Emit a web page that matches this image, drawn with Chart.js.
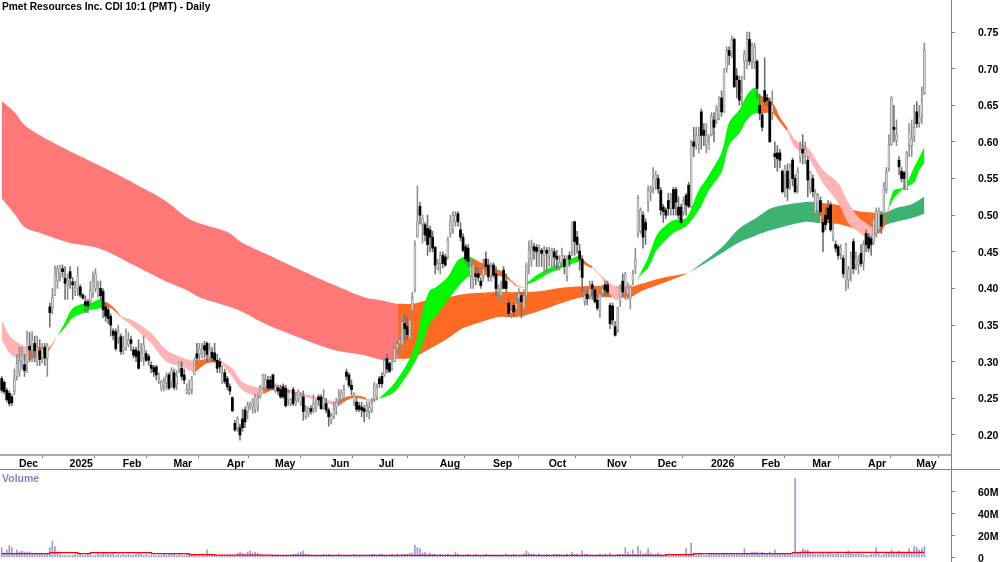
<!DOCTYPE html>
<html lang="en">
<head>
  <meta charset="UTF-8">
  <title>Pmet Resources Inc. CDI 10:1 (PMT) - Daily</title>
  <script src="https://cdn.jsdelivr.net/npm/chart.js"></script>
  <style>
    body { margin: 0; background: #fff; overflow: hidden; font-family: 'Liberation Sans', Arial, sans-serif; }
    canvas { position: absolute; left: 0; }
    #priceChart { top: 0; }
    #volumeChart { top: 470px; }
    .caption { position: absolute; font-weight: bold; white-space: nowrap; }
    #title { left: 2px; top: 1px; font-size: 10.2px; color: #000; }
    #volLabel { left: 2px; top: 472px; font-size: 10.5px; color: #8484c4; }
  </style>
</head>
<body>
  <canvas id="priceChart" width="1000" height="470"></canvas>
  <canvas id="volumeChart" width="1000" height="92"></canvas>
  <div class="caption" id="title">Pmet Resources Inc. CDI 10:1 (PMT) - Daily</div>
  <div class="caption" id="volLabel">Volume</div>

  <script>
    const monthLabels = ['Dec','2025','Feb','Mar','Apr','May','Jun','Jul','Aug','Sep','Oct','Nov','Dec','2026','Feb','Mar','Apr','May'];
    const monthTicks = [6,26,47,67,88,107,129,148,172,193,215,238,258,279,299,319,341,360];
    const priceTicks = [0.20,0.25,0.30,0.35,0.40,0.45,0.50,0.55,0.60,0.65,0.70,0.75];
    const volumeTicks = [0,20,40,60];

    // daily candles, one value per bar
    const opens = [
      .277,.272,.261,.257,.252,.259,.28,.286,.30,.296,
      .30,.321,.315,.325,.30,.315,.305,.32,.305,.375,
      .372,.39,.41,.42,.427,.414,.405,.423,.409,.396,
      .40,.402,.391,.382,.382,.382,.393,.40,.391,.40,
      .396,.375,.371,.362,.342,.341,.332,.334,.316,.318,
      .323,.33,.316,.316,.314,.305,.305,.311,.307,.295,
      .292,.293,.273,.264,.268,.27,.282,.272,.285,.27,
      .289,.291,.282,.258,.257,.262,.283,.311,.31,.313,
      .322,.325,.305,.313,.312,.302,.30,.272,.285,.277,
      .266,.251,.216,.21,.21,.222,.234,.232,.238,.238,
      .235,.24,.252,.265,.265,.275,.275,.282,.26,.264,
      .262,.266,.264,.248,.242,.262,.242,.25,.243,.252,
      .225,.23,.236,.236,.238,.252,.252,.24,.243,.234,
      .22,.225,.238,.248,.248,.25,.286,.282,.268,.245,
      .245,.24,.238,.236,.233,.232,.235,.25,.252,.277,
      .28,.282,.304,.298,.29,.30,.318,.325,.323,.352,
      .348,.332,.37,.398,.471,.512,.487,.487,.482,.48,
      .47,.456,.427,.434,.445,.443,.443,.475,.48,.491,
      .502,.48,.47,.457,.455,.416,.412,.42,.42,.41,
      .416,.44,.432,.416,.432,.42,.395,.39,.425,.41,
      .38,.366,.377,.372,.386,.39,.373,.39,.44,.44,
      .457,.456,.448,.452,.445,.452,.443,.44,.45,.444,
      .43,.436,.44,.416,.445,.45,.491,.47,.451,.44,
      .382,.392,.39,.405,.398,.384,.37,.393,.405,.405,
      .377,.376,.348,.343,.382,.41,.402,.392,.387,.41,
      .43,.475,.478,.50,.49,.518,.532,.537,.548,.55,
      .534,.511,.507,.52,.509,.535,.535,.511,.511,.505,
      .527,.541,.512,.60,.596,.597,.641,.616,.596,.59,
      .61,.63,.63,.632,.66,.641,.70,.725,.72,.74,
      .69,.684,.662,.71,.712,.74,.71,.708,.71,.65,
      .637,.67,.66,.655,.64,.584,.585,.585,.56,.555,
      .56,.548,.575,.55,.54,.578,.59,.58,.575,.537,
      .55,.503,.505,.52,.49,.50,.51,.514,.47,.46,
      .457,.448,.441,.41,.412,.427,.464,.432,.432,.448,
      .436,.475,.47,.468,.462,.475,.48,.50,.503,.535,
      .564,.596,.62,.602,.575,.56,.558,.535,.595,.595,
      .607,.641,.627,.637,.666
    ];
    const closes = [
      .261,.259,.248,.243,.244,.277,.298,.302,.31,.288,
      .33,.316,.33,.315,.32,.303,.318,.305,.322,.367,
      .388,.42,.427,.43,.423,.407,.41,.414,.405,.402,
      .418,.391,.387,.377,.376,.398,.409,.42,.40,.39,
      .371,.362,.359,.35,.336,.318,.343,.314,.32,.341,
      .33,.325,.309,.307,.291,.311,.323,.302,.302,.291,
      .286,.282,.277,.273,.273,.28,.264,.288,.265,.28,
      .30,.28,.275,.262,.262,.275,.302,.305,.318,.318,
      .316,.31,.317,.305,.302,.291,.293,.285,.273,.266,
      .26,.233,.207,.222,.20,.21,.218,.241,.242,.244,
      .252,.25,.265,.282,.276,.264,.264,.264,.266,.26,
      .252,.252,.24,.258,.248,.243,.247,.259,.252,.232,
      .234,.236,.232,.243,.243,.248,.236,.25,.234,.225,
      .227,.236,.245,.252,.258,.262,.28,.268,.262,.255,
      .235,.235,.234,.232,.24,.238,.243,.268,.265,.27,
      .27,.302,.29,.287,.30,.318,.325,.33,.355,.345,
      .337,.357,.388,.46,.491,.50,.496,.473,.46,.47,
      .455,.432,.434,.445,.434,.432,.466,.491,.50,.50,
      .491,.47,.452,.44,.437,.43,.432,.416,.415,.404,
      .427,.43,.416,.43,.418,.40,.40,.40,.40,.40,
      .366,.37,.368,.38,.393,.382,.39,.432,.452,.457,
      .452,.45,.452,.448,.452,.448,.45,.452,.443,.44,
      .436,.445,.43,.44,.44,.49,.464,.46,.44,.415,
      .39,.386,.40,.40,.382,.373,.393,.40,.398,.395,
      .352,.357,.336,.373,.40,.395,.42,.40,.402,.42,
      .44,.523,.507,.47,.48,.534,.536,.552,.555,.536,
      .507,.505,.50,.509,.518,.509,.518,.50,.49,.52,
      .514,.512,.596,.594,.609,.609,.609,.609,.609,.60,
      .635,.62,.645,.66,.641,.698,.725,.718,.739,.675,
      .685,.657,.667,.72,.74,.71,.732,.73,.673,.639,
      .62,.655,.657,.60,.65,.58,.577,.575,.532,.564,
      .537,.566,.55,.532,.56,.59,.585,.59,.548,.56,
      .532,.53,.527,.505,.477,.487,.495,.48,.482,.455,
      .445,.455,.42,.46,.425,.444,.427,.44,.438,.434,
      .46,.46,.455,.46,.495,.505,.505,.485,.54,.56,
      .596,.66,.617,.61,.566,.55,.55,.585,.615,.605,
      .62,.625,.634,.655,.725
    ];
    const highs = [
      .28,.274,.264,.26,.255,.29,.31,.32,.32,.31,
      .342,.34,.341,.335,.335,.33,.325,.325,.325,.38,
      .40,.431,.431,.432,.432,.43,.42,.43,.415,.41,
      .43,.405,.393,.39,.385,.41,.423,.427,.41,.41,
      .40,.38,.375,.365,.345,.345,.35,.338,.335,.345,
      .34,.335,.32,.32,.33,.325,.335,.315,.31,.30,
      .295,.295,.285,.275,.278,.285,.285,.292,.29,.288,
      .30,.30,.29,.27,.275,.28,.305,.325,.325,.325,
      .328,.327,.325,.32,.325,.31,.305,.295,.29,.28,
      .27,.252,.22,.225,.215,.235,.238,.245,.245,.25,
      .255,.255,.268,.283,.283,.28,.28,.283,.27,.268,
      .268,.27,.268,.262,.25,.265,.258,.262,.258,.26,
      .24,.238,.24,.255,.248,.255,.255,.262,.25,.237,
      .23,.245,.25,.262,.262,.268,.29,.285,.275,.258,
      .25,.245,.245,.24,.245,.245,.25,.272,.27,.28,
      .285,.305,.31,.30,.305,.322,.33,.345,.36,.365,
      .36,.36,.395,.465,.54,.518,.50,.49,.50,.485,
      .478,.458,.44,.45,.45,.447,.47,.50,.505,.505,
      .505,.49,.475,.46,.46,.44,.44,.43,.428,.415,
      .44,.45,.44,.435,.435,.43,.405,.41,.43,.42,
      .385,.378,.38,.392,.40,.395,.398,.435,.465,.466,
      .462,.46,.46,.455,.458,.456,.456,.455,.455,.452,
      .445,.455,.445,.445,.45,.491,.492,.478,.46,.445,
      .398,.398,.41,.41,.40,.39,.395,.405,.41,.41,
      .38,.38,.355,.375,.405,.42,.422,.408,.405,.425,
      .455,.527,.51,.505,.495,.54,.54,.565,.56,.555,
      .538,.515,.51,.53,.53,.538,.538,.525,.515,.525,
      .53,.545,.602,.62,.62,.62,.645,.625,.625,.61,
      .64,.64,.65,.662,.67,.70,.73,.73,.745,.742,
      .70,.69,.69,.725,.75,.75,.735,.735,.712,.665,
      .64,.715,.665,.66,.67,.60,.595,.59,.562,.568,
      .57,.57,.578,.555,.565,.60,.61,.60,.58,.56,
      .555,.535,.53,.525,.495,.51,.52,.518,.49,.465,
      .46,.46,.445,.462,.43,.45,.468,.45,.445,.46,
      .465,.48,.475,.472,.50,.51,.51,.505,.545,.565,
      .61,.662,.65,.63,.58,.565,.56,.587,.625,.63,
      .65,.655,.65,.675,.735
    ];
    const lows = [
      .258,.256,.245,.24,.24,.255,.275,.28,.29,.28,
      .285,.30,.30,.30,.295,.295,.298,.295,.28,.347,
      .365,.39,.40,.41,.415,.385,.385,.40,.385,.39,
      .39,.388,.385,.367,.367,.38,.388,.395,.388,.385,
      .36,.355,.352,.335,.33,.315,.325,.31,.31,.315,
      .32,.315,.305,.30,.29,.30,.295,.30,.295,.285,
      .28,.275,.27,.26,.26,.262,.262,.265,.262,.262,
      .285,.275,.27,.256,.255,.256,.282,.30,.30,.305,
      .305,.30,.30,.30,.30,.285,.285,.27,.27,.262,
      .255,.232,.205,.205,.193,.205,.21,.222,.235,.23,
      .23,.232,.25,.262,.262,.26,.262,.262,.258,.255,
      .25,.25,.238,.24,.24,.24,.24,.245,.24,.22,
      .222,.225,.228,.23,.232,.24,.235,.235,.23,.212,
      .215,.222,.228,.24,.242,.245,.275,.265,.255,.24,
      .232,.232,.225,.218,.225,.222,.23,.245,.248,.265,
      .265,.28,.285,.285,.288,.30,.31,.31,.32,.33,
      .33,.33,.365,.395,.47,.488,.462,.465,.445,.45,
      .45,.42,.425,.42,.428,.43,.44,.47,.475,.485,
      .485,.465,.45,.435,.43,.40,.40,.405,.41,.40,
      .41,.425,.41,.41,.415,.39,.385,.38,.40,.395,
      .362,.36,.362,.37,.38,.36,.362,.388,.42,.43,
      .44,.43,.43,.43,.42,.425,.43,.425,.43,.425,
      .425,.43,.42,.41,.43,.445,.445,.448,.425,.395,
      .377,.378,.385,.385,.38,.37,.36,.388,.39,.39,
      .345,.35,.335,.34,.375,.39,.385,.385,.372,.405,
      .42,.47,.475,.455,.46,.505,.52,.53,.535,.53,
      .50,.49,.495,.50,.50,.50,.50,.495,.488,.50,
      .50,.51,.51,.58,.59,.585,.59,.595,.585,.59,
      .608,.60,.625,.63,.635,.64,.695,.705,.715,.675,
      .66,.65,.65,.685,.70,.705,.70,.70,.66,.63,
      .615,.65,.65,.60,.63,.565,.56,.565,.53,.525,
      .52,.535,.54,.53,.53,.572,.57,.57,.525,.53,
      .525,.495,.50,.50,.45,.48,.49,.478,.465,.45,
      .44,.44,.415,.397,.40,.41,.42,.425,.42,.43,
      .425,.45,.45,.445,.46,.47,.478,.475,.50,.53,
      .56,.595,.60,.595,.555,.545,.535,.535,.58,.58,
      .60,.62,.62,.625,.665
    ];

    // volume in millions, one value per bar
    const volumes = [
      9,4,7,11,9,3,7,5,6,5, 5,5,4,3,4,3,3,3,4,9,
      15,10,4,3,2,2,1.5,2,2,3, 2,3,2,2,3,2,1.5,2,4,3,
      5,4,3,3,4,2,3,2,3,2, 3,2,2,3,4,3,2,3,2,2,
      2,1.5,2,2,3,2,3,3,3,2, 3,2,2,3,2,3,2,2,2,2,
      3,7,3,2,2,2,1.5,2,1.5,2, 2,1.5,2,4,5,4,3,5,6,4,
      5,4,3,2,2,1.5,2,1.5,1.5,1.5, 1.5,1.5,2,1.5,2,3,3,4,5,6,
      3,3,2,2,1.5,2,2,3,2,3, 2,2,2,3,2,1.5,2,2,2,3,
      2,2,2,2,2,2,3,3,2,3, 3,2,2,2,3,2,3,2,3,3,
      3,4,4,11,9,8,4,5,3,4, 3,3,2,3,2,2,3,2,2,5,
      3,2,2,2,3,2,2,3,2,2, 2,3,2,2,2,2,1.5,2,2,3,
      2,2,3,2,2,2,3,6,4,3, 3,2,3,2,2,3,2,2,3,3,
      3,2,2,3,2,5,3,3,2,6, 3,3,2,2,2,2,3,2,3,2,
      4,2,2,3,3,3,9,5,3,7, 3,10,6,3,4,8,4,3,3,4,
      3,2,2,2,2,2,2,3,2,3, 8,3,13,4,3,3,3,2,2,3,
      3,3,4,3,4,4,4,3,4,3, 4,4,3,8,4,3,5,5,5,4,
      5,4,3,5,3,7,3,3,4,3, 3,3,2,72,4,5,8,7,7,4,
      4,3,3,4,5,3,4,4,3,3, 4,3,3,4,6,4,3,3,5,3,
      3,2,2,3,3,9,4,2,3,4, 4,7,5,5,6,4,4,4,8,4,
      10,9,7,8,10
    ];
    const volAvgBars = [0,19,30,35,59,74,84,107,262,273,312,315,364];
    const volAvg = [3.5,4.4,3.5,4.4,3.5,2.6,2.2,1.9,2.6,3.5,4.4,4.7,4.7];

    // long term ribbon: bar number, upper edge, lower edge, colour of the stretch starting there
    const longBars = [0,5,9,15,26,39,52,64,73,78,89,95,105,118,131,143,151,156,162,168,176,182,189,196,203,211,221,229,241,248,252,260,271,284,291,298,304,317,323,330,337,342,347,349,353,359,364];
    const longTop = [.656,.641,.623,.609,.589,.567,.544,.521,.497,.489,.477,.462,.446,.425,.405,.388,.383,.379,.379,.384,.388,.392,.394,.395,.395,.396,.401,.403,.403,.402,.406,.414,.421,.456,.482,.497,.51,.518,.517,.514,.506,.504,.503,.504,.51,.515,.525];
    const longBot = [.523,.502,.484,.476,.463,.454,.432,.411,.398,.388,.376,.368,.35,.332,.316,.309,.302,.304,.305,.316,.332,.346,.354,.361,.361,.368,.38,.388,.388,.388,.396,.406,.421,.448,.463,.473,.48,.491,.489,.488,.481,.476,.482,.487,.491,.496,.502];
    const longKind = ['R','R','R','R','R','R','R','R','R','R','R','R','R','R','R','R','R','O','O','O','O','O','O','O','O','O','O','O','O','O','O','O','S','S','S','S','S','S','O','O','O','O','S','S','S','S','S'];

    // short term ribbon, same layout
    const shortBars = [0,3,6,10,11,15,18,20,22,25,28,32,35,39,40,42,45,47,52,59,65,71,76,81,86,87,91,95,102,103,107,112,114,124,131,133,138,143,144,146,149,155,160,162,164,166,169,171,176,180,184,186,191,198,201,203,206,207,211,216,221,227,228,232,233,237,241,243,245,248,250,252,255,258,260,265,270,275,279,284,287,291,294,297,299,304,307,310,313,318,324,330,334,338,341,344,347,349,350,352,356,360,362,364];
    const shortTop = [.357,.336,.327,.32,.324,.32,.317,.325,.335,.354,.373,.379,.38,.386,.383,.38,.371,.362,.356,.339,.316,.306,.30,.304,.301,.30,.291,.272,.264,.263,.267,.263,.261,.252,.246,.248,.254,.252,.249,.249,.25,.271,.298,.312,.334,.37,.398,.401,.416,.439,.444,.441,.432,.422,.411,.405,.402,.407,.418,.428,.435,.444,.443,.432,.431,.416,.405,.401,.405,.403,.405,.421,.442,.47,.48,.493,.496,.534,.555,.586,.627,.644,.664,.674,.664,.654,.634,.619,.603,.592,.562,.544,.517,.497,.489,.482,.487,.50,.514,.534,.538,.566,.579,.593];
    const shortBot = [.33,.312,.305,.302,.302,.309,.313,.323,.335,.347,.36,.366,.371,.373,.375,.375,.368,.361,.347,.325,.30,.293,.285,.298,.298,.297,.279,.261,.252,.256,.261,.259,.257,.248,.241,.241,.25,.249,.246,.245,.249,.259,.282,.293,.306,.325,.353,.361,.384,.402,.416,.416,.418,.416,.409,.402,.401,.405,.411,.421,.428,.436,.436,.429,.428,.413,.387,.384,.391,.401,.405,.418,.428,.45,.459,.476,.485,.507,.534,.559,.596,.612,.63,.639,.639,.639,.627,.614,.592,.579,.544,.517,.489,.477,.47,.473,.477,.493,.51,.523,.537,.545,.562,.571];
    const shortKind = ['P','P','P','P','O','O','O','O','G','G','G','G','G','G','O','O','O','P','P','P','P','P','O','O','O','P','P','P','P','O','O','O','P','P','P','O','O','O','P','P','G','G','G','G','G','G','G','G','G','G','G','O','O','O','O','P','P','G','G','G','G','G','O','O','P','P','P','P','P','P','G','G','G','G','G','G','G','G','G','G','G','G','G','G','O','O','O','P','P','P','P','P','P','P','P','O','O','O','G','G','G','G','G','G'];

    const ribbonColors = { R: '#ff7878', O: '#ff6a22', S: '#3cb371', G: '#00f800', P: '#ffb4b4' };

    // split one ribbon into runs of a single colour, each an upper line filled down to a lower line
    function ribbonDatasets(bars, top, bot, kind, order) {
      const sets = [];
      let start = 0;
      for (let i = 1; i < bars.length; i++) {
        if (i === bars.length - 1 || kind[i] !== kind[start]) {
          const color = ribbonColors[kind[start]];
          const idx = bars.slice(start, i + 1).map((b, k) => start + k);
          const common = { type: 'line', pointRadius: 0, borderWidth: 0, order: order, tension: 0.3 };
          sets.push({ ...common, data: idx.map(n => ({ x: bars[n], y: top[n] })), fill: '+1', backgroundColor: color });
          sets.push({ ...common, data: idx.map(n => ({ x: bars[n], y: bot[n] })), fill: false });
          start = i;
        }
      }
      return sets;
    }

    const upBody = '#dcdcdc', upEdge = '#8c8c8c', downColor = '#000000';
    const isUp = closes.map((c, i) => c >= opens[i]);

    const candleSets = [
      {
        data: highs.map((h, i) => ({ x: i, y: [lows[i], h] })),
        backgroundColor: isUp.map(u => u ? upEdge : '#6e6e6e'),
        barThickness: 0.9, grouped: false, order: 2
      },
      {
        data: opens.map((o, i) => ({ x: i, y: [Math.min(o, closes[i]), Math.max(o, closes[i])] })),
        backgroundColor: isUp.map(u => u ? upBody : downColor),
        borderColor: isUp.map(u => u ? upEdge : downColor),
        borderWidth: isUp.map(u => u ? 0.8 : 0), borderSkipped: false,
        barThickness: 2.1, grouped: false, order: 1
      }
    ];

    // tick padding would otherwise be added above and below the plot
    function noPadding(scale) {
      scale.paddingTop = 0;
      scale.paddingBottom = 0;
      scale.paddingLeft = 0;
      scale.paddingRight = 0;
    }

    // right hand frame line, it runs through the date band too
    const frame = {
      id: 'frame',
      afterDraw(chart) {
        const c = chart.ctx;
        c.save();
        c.strokeStyle = '#808080';
        c.lineWidth = 1;
        c.beginPath();
        c.moveTo(951.5, 0);
        c.lineTo(951.5, chart.height);
        if (chart.canvas.id === 'priceChart') {
          c.moveTo(0, 469.5);
          c.lineTo(1000, 469.5);
        }
        c.stroke();
        c.restore();
      }
    };

    Chart.defaults.font.family = "'Liberation Sans', Arial, sans-serif";
    Chart.defaults.font.weight = 'bold';
    Chart.defaults.font.size = 10.5;
    Chart.defaults.color = '#000';

    const xMin = -0.67, xMax = 374.5;

    new Chart(document.getElementById('priceChart'), {
      type: 'bar',
      data: {
        datasets: [
          ...ribbonDatasets(longBars, longTop, longBot, longKind, 5),
          ...ribbonDatasets(shortBars, shortTop, shortBot, shortKind, 4),
          ...candleSets
        ]
      },
      options: {
        responsive: false,
        animation: false,
        layout: { padding: 0 },
        plugins: { legend: { display: false }, tooltip: { enabled: false } },
        scales: {
          x: {
            type: 'linear', min: xMin, max: xMax, offset: false,
            afterBuildTicks: s => { s.ticks = monthTicks.map(v => ({ value: v })); },
            afterFit: s => { s.height = 15; noPadding(s); },
            border: { display: true, color: '#aaaaaa', width: 2 },
            grid: { drawOnChartArea: false, tickLength: 3, color: '#808080' },
            ticks: {
              autoSkip: false, maxRotation: 0, align: 'start', padding: 0, labelOffset: 2,
              callback: v => monthLabels[monthTicks.indexOf(v)]
            }
          },
          y: {
            position: 'right', min: 0.1727, max: 0.7937,
            afterBuildTicks: s => { s.ticks = priceTicks.map(v => ({ value: v })); },
            afterFit: s => { s.width = 49; noPadding(s); },
            border: { display: false },
            grid: { drawOnChartArea: false, tickLength: 4, color: '#808080' },
            ticks: { padding: 23, labelOffset: 1, callback: v => v.toFixed(2) }
          }
        }
      },
      plugins: [frame]
    });

    new Chart(document.getElementById('volumeChart'), {
      type: 'bar',
      data: {
        datasets: [
          {
            type: 'line',
            data: volAvgBars.map((b, i) => ({ x: b, y: volAvg[i] })),
            borderColor: '#ff0000', borderWidth: 1.3, pointRadius: 0, stepped: true, order: 1
          },
          {
            data: volumes.map((v, i) => ({ x: i, y: v })),
            backgroundColor: '#9a9ade', barThickness: 1, order: 2
          }
        ]
      },
      options: {
        responsive: false,
        animation: false,
        layout: { padding: 0 },
        plugins: { legend: { display: false }, tooltip: { enabled: false } },
        scales: {
          x: { type: 'linear', min: xMin, max: xMax, offset: false, display: false },
          y: {
            position: 'right', min: -4.1, max: 79.5,
            afterBuildTicks: s => { s.ticks = volumeTicks.map(v => ({ value: v })); },
            afterFit: s => { s.width = 49; noPadding(s); },
            border: { display: false },
            grid: { drawOnChartArea: false, tickLength: 4, color: '#808080' },
            ticks: { padding: 23, labelOffset: 1.5, callback: v => v === 0 ? '0' : v + 'M' }
          }
        }
      },
      plugins: [frame]
    });
  </script>
</body>
</html>
